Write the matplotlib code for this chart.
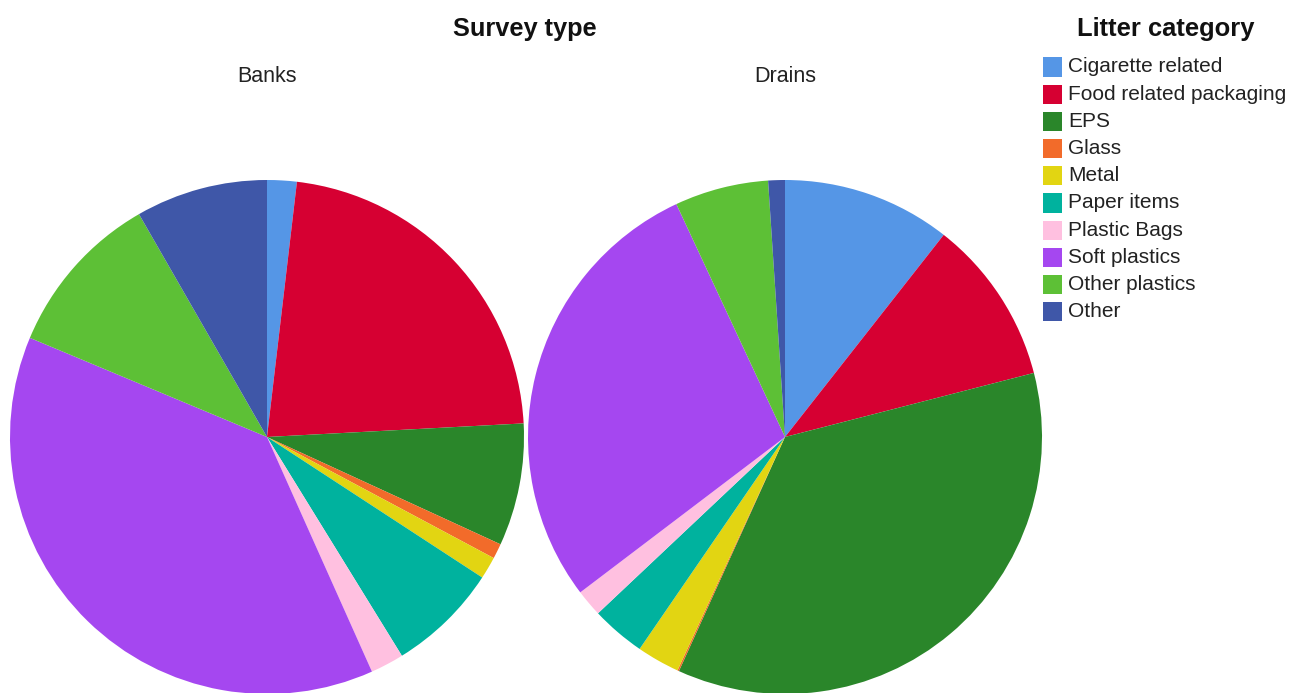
import matplotlib
matplotlib.use("Agg")
import matplotlib.pyplot as plt
from matplotlib.patches import Rectangle

plt.rcParams['font.family'] = ['Liberation Sans', 'DejaVu Sans']

# Litter share (%) per survey type
categories = ['Cigarette related', 'Food related packaging', 'EPS', 'Glass', 'Metal',
              'Paper items', 'Plastic Bags', 'Soft plastics', 'Other plastics', 'Other']
colors = ['#5596E6', '#D60032', '#2A862A', '#F26B2A', '#E2D512',
          '#00B29E', '#FFC0E0', '#A547F0', '#5DC036', '#3F57A8']

banks = [1.86, 22.3, 7.7, 0.95, 1.4, 7.0, 2.1, 38.0, 10.4, 8.3]
drains = [10.6, 10.4, 35.8, 0.1, 2.7, 3.4, 1.7, 28.4, 5.9, 1.05]

survey_types = ['Banks', 'Drains']
data = [banks, drains]

W, H = 1291, 693
fig = plt.figure(figsize=(W / 100, H / 100), dpi=100)

# pie centres / radius in pixels
centres = [(267, 437), (785, 437)]
r = 257

for (cx, cy), name, vals in zip(centres, survey_types, data):
    ax = fig.add_axes([(cx - r) / W, (H - cy - r) / H, 2 * r / W, 2 * r / H])
    ax.pie(vals, colors=colors, startangle=90, counterclock=False,
           radius=1, wedgeprops=dict(linewidth=0))
    ax.set_xlim(-1, 1)
    ax.set_ylim(-1, 1)
    ax.set_aspect('auto')
    ax.axis('off')
    fig.text(cx / W, 1 - 76 / H, name, ha='center', va='center', fontsize=15.5,
             color='#222222')

fig.text(525 / W, 1 - 29 / H, 'Survey type', ha='center', va='center',
         fontsize=18.3, fontweight='bold', color='#111111')

# legend drawn by hand
fig.text(1166 / W, 1 - 29 / H, 'Litter category', ha='center', va='center',
         fontsize=18.4, fontweight='bold', color='#111111')
row0, step, box = 67, 27.2, 19
for i, (lab, c) in enumerate(zip(categories, colors)):
    y = row0 + i * step
    fig.add_artist(Rectangle((1043 / W, 1 - (y + box / 2) / H), box / W, box / H,
                             transform=fig.transFigure, facecolor=c,
                             edgecolor='none'))
    fig.text(1068 / W, 1 - y / H, lab, ha='left', va='center', fontsize=15,
             color='#222222')

fig.savefig('out.png', dpi=100)
